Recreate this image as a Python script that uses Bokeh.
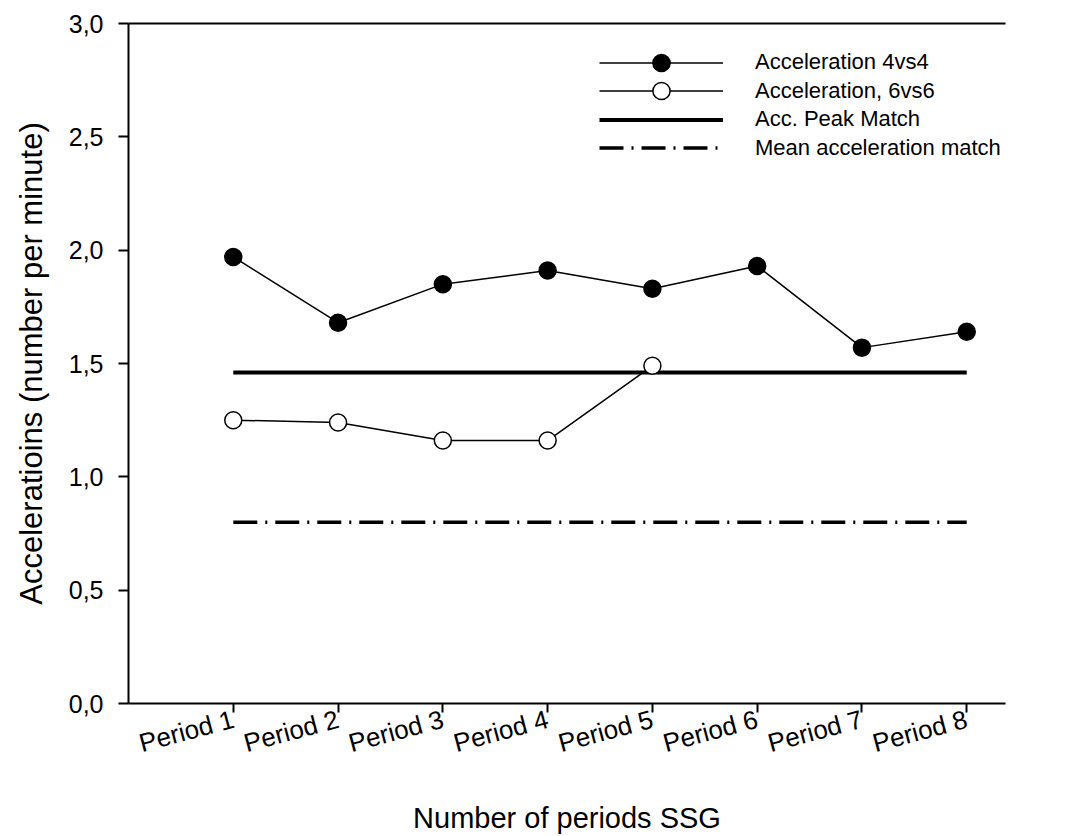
from bokeh.plotting import figure
from bokeh.models import (Range1d, FixedTicker, LinearAxis, Legend, LegendItem)
from bokeh.embed import file_html
from bokeh.resources import INLINE

periods = ["Period 1", "Period 2", "Period 3", "Period 4",
           "Period 5", "Period 6", "Period 7", "Period 8"]
acc_4vs4 = [1.97, 1.68, 1.85, 1.91, 1.83, 1.93, 1.57, 1.64]
acc_6vs6 = [1.25, 1.24, 1.16, 1.16, 1.49, None, None, None]
peak_match = 1.46
mean_match = 0.80
y_ticks = [0.0, 0.5, 1.0, 1.5, 2.0, 2.5, 3.0]
y_tick_labels = ["0,0", "0,5", "1,0", "1,5", "2,0", "2,5", "3,0"]
legend_labels = ["Acceleration 4vs4", "Acceleration, 6vs6",
                 "Acc. Peak Match", "Mean acceleration match"]

x_pos = list(range(1, len(periods) + 1))
x6 = [x for x, v in zip(x_pos, acc_6vs6) if v is not None]
y6 = [v for v in acc_6vs6 if v is not None]

FONT = "Liberation Sans"
FRAME_H = 680

p = figure(frame_width=877, frame_height=FRAME_H, output_backend="svg",
           toolbar_location=None, x_range=Range1d(0, 8.37), y_range=Range1d(0, 3.0),
           min_border_left=128, min_border_top=23, min_border_right=25,
           min_border_bottom=132)
p.outline_line_color = None
p.grid.visible = False
p.background_fill_color = "white"

# axes
p.xaxis.ticker = FixedTicker(ticks=x_pos)
p.xaxis.major_label_overrides = {x: lab for x, lab in zip(x_pos, periods)}
p.xaxis.major_label_orientation = 0.2618
p.yaxis.ticker = FixedTicker(ticks=y_ticks)
p.yaxis.major_label_overrides = {t: lab for t, lab in zip(y_ticks, y_tick_labels)}
for ax in (p.xaxis, p.yaxis):
    ax.axis_line_width = 2
    ax.axis_line_color = "black"
    ax.major_tick_line_width = 2
    ax.major_tick_line_color = "black"
    ax.major_tick_in = 0
    ax.minor_tick_line_color = None
    ax.major_label_text_font = FONT
    ax.major_label_text_color = "black"
    ax.axis_label_text_font = FONT
    ax.axis_label_text_font_style = "normal"
    ax.axis_label_text_color = "black"
p.xaxis.major_tick_out = 9
p.yaxis.major_tick_out = 10
p.xaxis.major_label_text_font_size = "26px"
p.yaxis.major_label_text_font_size = "25px"
p.xaxis.axis_label_text_font_size = "29px"
p.yaxis.axis_label_text_font_size = "31px"
p.xaxis.axis_label = "Number of periods SSG"
p.yaxis.axis_label = "Acceleratioins (number per minute)"
p.xaxis.major_label_standoff = 6
p.yaxis.major_label_standoff = 15
p.xaxis.axis_label_standoff = 26
p.yaxis.axis_label_standoff = 17

top = LinearAxis(ticker=FixedTicker(ticks=[]), axis_line_width=2,
                 axis_line_color="black", major_tick_in=0, major_tick_out=0,
                 minor_tick_in=0, minor_tick_out=0,
                 major_label_text_font_size="0px")
p.add_layout(top, "above")

# data
r_peak = p.line([x_pos[0], x_pos[-1]], [peak_match, peak_match],
                line_color="black", line_width=4)
r_mean = p.line([x_pos[0], x_pos[-1]], [mean_match, mean_match],
                line_color="black", line_width=3.5, line_dash="24 8 2 8")
l4 = p.line(x_pos, acc_4vs4, line_color="black", line_width=1.5)
s4 = p.scatter(x_pos, acc_4vs4, size=17, marker="circle",
               fill_color="black", line_color="black", line_width=1.5)
l6 = p.line(x6, y6, line_color="black", line_width=1.5)
s6 = p.scatter(x6, y6, size=17, marker="circle",
               fill_color="white", line_color="black", line_width=1.5)

# legend: one row per Legend so the row pitch stays tight while markers stay large
row_renderers = [[l4, s4], [l6, s6], [r_peak], [r_mean]]
ROW_H = 43
first_row_from_top = 39   # row centre, px below the frame top
pitch = 28.5
for i, (lab, rends) in enumerate(zip(legend_labels, row_renderers)):
    centre_from_bottom = FRAME_H - (first_row_from_top + i * pitch)
    lg = Legend(items=[LegendItem(label=lab, renderers=rends)],
                location=(471, centre_from_bottom - ROW_H / 2))
    lg.border_line_color = None
    lg.background_fill_alpha = 0
    lg.padding = 0
    lg.margin = 0
    lg.spacing = 0
    lg.glyph_width = 124
    lg.glyph_height = ROW_H
    lg.label_height = ROW_H
    lg.label_standoff = 32
    lg.label_text_font = FONT
    lg.label_text_font_size = "22px"
    lg.label_text_color = "black"
    p.add_layout(lg, "center")

open("out.html", "w").write(file_html(p, INLINE))
